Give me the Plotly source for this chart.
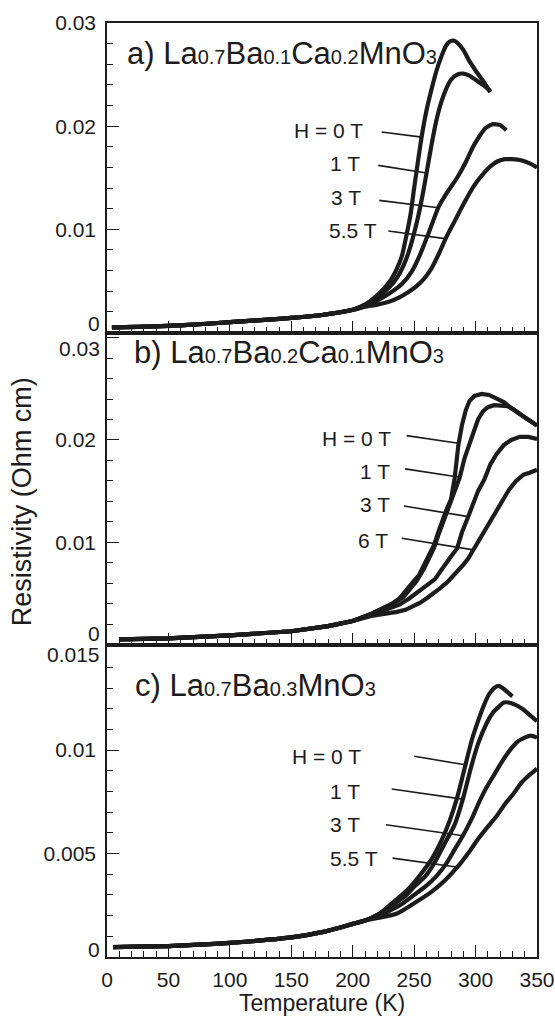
import plotly.graph_objects as go
from plotly.subplots import make_subplots

# ---------------- data (Temperature in K, resistivity in Ohm cm) ----------------
# Panel a) La0.7Ba0.1Ca0.2MnO3  (fields 0, 1, 3, 5.5 T)
a_T_low   = [4, 25, 50, 75, 100, 125, 150, 175, 200]
a_rho_low = [0.0005, 0.00055, 0.00065, 0.0008, 0.001, 0.0012, 0.00142, 0.0017, 0.0022]
a_T_0   = [210, 218, 225, 231, 236, 240, 243, 247, 250, 253, 256, 260, 264, 268, 272, 276, 279, 282, 285, 290, 295, 300, 306, 312]
a_rho_0 = [0.0027, 0.0034, 0.0042, 0.0051, 0.0062, 0.0074, 0.0090, 0.0114, 0.0140, 0.0165, 0.0189, 0.0215, 0.0235, 0.0253, 0.0267, 0.0278, 0.0282, 0.0283, 0.0281, 0.0274, 0.0263, 0.0254, 0.0244, 0.0233]
a_T_1   = [210, 220, 230, 236, 241, 245, 249, 253, 257, 260, 264, 268, 272, 276, 280, 285, 290, 295, 300, 306, 312]
a_rho_1 = [0.0027, 0.0034, 0.0044, 0.0053, 0.0064, 0.0076, 0.0092, 0.0111, 0.0134, 0.0154, 0.0181, 0.0205, 0.0223, 0.0236, 0.0245, 0.0250, 0.0251, 0.0249, 0.0245, 0.0240, 0.0234]
a_T_3   = [210, 220, 230, 240, 248, 255, 262, 270, 277, 285, 292, 298, 303, 308, 314, 320, 325]
a_rho_3 = [0.0026, 0.0031, 0.0038, 0.0047, 0.0059, 0.0076, 0.0097, 0.0122, 0.0136, 0.0150, 0.0165, 0.0180, 0.0190, 0.0198, 0.0202, 0.0201, 0.0196]
a_T_55   = [210, 220, 230, 238, 245, 252, 258, 264, 270, 276, 283, 290, 298, 305, 312, 318, 324, 330, 337, 344, 350]
a_rho_55 = [0.0025, 0.0027, 0.0030, 0.0034, 0.0039, 0.0045, 0.0052, 0.0062, 0.0076, 0.0092, 0.0108, 0.0124, 0.0141, 0.0152, 0.0161, 0.0166, 0.0168, 0.0168, 0.0167, 0.0164, 0.0160]

# Panel b) La0.7Ba0.2Ca0.1MnO3  (fields 0, 1, 3, 6 T)
b_T_low   = [10, 50, 100, 150, 180, 200]
b_rho_low = [0.0005, 0.0006, 0.0009, 0.0013, 0.0018, 0.0023]
b_T_0   = [215, 225, 232, 238, 244, 249, 254, 258, 262, 266, 270, 274, 277, 280, 283, 286, 289, 292, 295, 299, 305, 311, 318, 323, 329, 334, 339, 344, 350]
b_rho_0 = [0.0030, 0.0036, 0.0040, 0.0045, 0.0053, 0.0061, 0.0068, 0.0078, 0.0088, 0.0097, 0.0111, 0.0125, 0.0134, 0.0142, 0.0163, 0.0195, 0.0215, 0.0229, 0.0238, 0.0243, 0.0245, 0.0244, 0.0240, 0.0237, 0.0231, 0.0227, 0.0223, 0.0219, 0.0214]
b_T_1   = [215, 225, 233, 241, 247, 252, 258, 262, 266, 270, 275, 279, 283, 287, 291, 295, 298, 302, 306, 310, 315, 321, 326, 331, 334, 339, 344, 350]
b_rho_1 = [0.0030, 0.0035, 0.0040, 0.0046, 0.0054, 0.0062, 0.0074, 0.0084, 0.0094, 0.0108, 0.0125, 0.0136, 0.0150, 0.0163, 0.0182, 0.0196, 0.0208, 0.0220, 0.0228, 0.0232, 0.0234, 0.0234, 0.0233, 0.0230, 0.0227, 0.0223, 0.0219, 0.0214]
b_T_3   = [215, 222, 230, 238, 246, 254, 262, 267, 271, 276, 280, 285, 289, 294, 298, 302, 307, 312, 317, 323, 329, 336, 343, 350]
b_rho_3 = [0.0029, 0.0032, 0.0035, 0.0039, 0.0045, 0.0052, 0.0060, 0.0064, 0.0071, 0.0080, 0.0086, 0.0094, 0.0110, 0.0125, 0.0138, 0.0150, 0.0161, 0.0176, 0.0186, 0.0195, 0.0200, 0.0203, 0.0203, 0.0201]
b_T_6   = [215, 222, 230, 236, 243, 249, 255, 260, 266, 271, 277, 285, 290, 294, 298, 302, 307, 312, 317, 323, 327, 333, 339, 344, 350]
b_rho_6 = [0.0028, 0.0029, 0.0031, 0.0032, 0.0034, 0.0037, 0.0041, 0.0045, 0.0050, 0.0055, 0.0061, 0.0071, 0.0078, 0.0084, 0.0092, 0.0100, 0.0110, 0.0120, 0.0131, 0.0143, 0.0151, 0.0160, 0.0166, 0.0168, 0.0171]

# Panel c) La0.7Ba0.3MnO3  (fields 0, 1, 3, 5.5 T)
c_T_low   = [5, 25, 50, 75, 100, 125, 150, 175, 200]
c_rho_low = [0.00048, 0.0005, 0.00053, 0.0006, 0.00068, 0.0008, 0.00095, 0.0012, 0.0016]
c_T_0   = [212, 222, 232, 242, 250, 258, 265, 272, 279, 285, 291, 297, 302, 307, 311, 315, 318.5, 322, 326, 330]
c_rho_0 = [0.0018, 0.0021, 0.0026, 0.0031, 0.0036, 0.0042, 0.0048, 0.0056, 0.0066, 0.0077, 0.0091, 0.0105, 0.0114, 0.0122, 0.0127, 0.0130, 0.0131, 0.0130, 0.0128, 0.0126]
c_T_1   = [212, 222, 232, 242, 250, 259, 267, 275, 283, 290, 296, 302, 309, 314, 319, 323, 327, 332, 338, 344, 350]
c_rho_1 = [0.0018, 0.0021, 0.0025, 0.0029, 0.0034, 0.0039, 0.0046, 0.0055, 0.0064, 0.0077, 0.0091, 0.0103, 0.0113, 0.0118, 0.0121, 0.0123, 0.0123, 0.0122, 0.0120, 0.0117, 0.0114]
c_T_3   = [212, 222, 232, 241, 250, 259, 268, 276, 283, 290, 297, 303, 309, 314, 320, 328, 334, 340, 345, 350]
c_rho_3 = [0.0018, 0.0020, 0.0023, 0.0026, 0.0030, 0.0034, 0.0039, 0.0045, 0.0052, 0.0059, 0.0067, 0.0075, 0.0082, 0.0087, 0.0093, 0.0100, 0.0104, 0.0106, 0.0107, 0.0106]
c_T_55   = [212, 222, 236, 250, 263, 275, 286, 295, 302, 310, 317, 324, 331, 337, 342, 346, 350]
c_rho_55 = [0.0018, 0.0019, 0.0021, 0.0026, 0.0031, 0.0037, 0.0044, 0.0051, 0.0057, 0.0063, 0.0068, 0.0074, 0.0079, 0.0084, 0.0087, 0.0089, 0.0091]

# Panel titles and field labels
SUB = "<span style='font-size:20px'>{}</span>"
titles = [
    "a) La" + SUB.format("0.7") + "Ba" + SUB.format("0.1") + "Ca" + SUB.format("0.2") + "MnO" + SUB.format("3"),
    "b) La" + SUB.format("0.7") + "Ba" + SUB.format("0.2") + "Ca" + SUB.format("0.1") + "MnO" + SUB.format("3"),
    "c) La" + SUB.format("0.7") + "Ba" + SUB.format("0.3") + "MnO" + SUB.format("3"),
]
labels_a = ["H = 0 T", "1 T", "3 T", "5.5 T"]
labels_b = ["H = 0 T", "1 T", "3 T", "6 T"]
labels_c = ["H = 0 T", "1 T", "3 T", "5.5 T"]
x_ticks = [0, 50, 100, 150, 200, 250, 300, 350]

# ---------------- layout helpers (positions in data units) ----------------
title_pos = [(14.5, 0.0270), (20.5, 0.0285), (21.5, 0.0131)]
label_pos_a = [(210, 0.0196), (207.3, 0.0164), (208.6, 0.0131), (221.6, 0.0099)]
leader_a = [((223.6, 0.01943), (256.1, 0.01894)), ((220.8, 0.0162), (260.2, 0.01546)),
            ((221.6, 0.01281), (269.7, 0.0121)), ((229.0, 0.00984), (275.1, 0.0091))]
label_pos_b = [(233.0, 0.02016), (231.7, 0.0169), (231.7, 0.01365), (230.3, 0.01014)]
leader_b = [((243.9, 0.02042), (286.0, 0.01967)), ((242.6, 0.01717), (287.3, 0.01635)),
            ((241.7, 0.01355), (294.1, 0.01251)), ((239.9, 0.01039), (298.2, 0.00926))]
label_pos_c = [(208.6, 0.0097), (207.3, 0.0080), (207.3, 0.00639), (222.2, 0.00478)]
leader_c = [((250.1, 0.0097), (291.4, 0.00929)), ((231.7, 0.00812), (289.5, 0.00763)),
            ((227.1, 0.00639), (290.0, 0.00586)), ((232.5, 0.00478), (285.9, 0.00434))]

INK = "#1c1c1c"
FONT = "Liberation Sans, Arial, Helvetica, sans-serif"

fig = make_subplots(rows=3, cols=1, shared_xaxes=True, vertical_spacing=0)

panels = [
    (1, "spline", a_T_low, a_rho_low, [(a_T_0, a_rho_0), (a_T_1, a_rho_1), (a_T_3, a_rho_3), (a_T_55, a_rho_55)]),
    (2, "linear", b_T_low, b_rho_low, [(b_T_0, b_rho_0), (b_T_1, b_rho_1), (b_T_3, b_rho_3), (b_T_6, b_rho_6)]),
    (3, "spline", c_T_low, c_rho_low, [(c_T_0, c_rho_0), (c_T_1, c_rho_1), (c_T_3, c_rho_3), (c_T_55, c_rho_55)]),
]
for row, shape, tl, rl, curves in panels:
    for th, rh in curves:
        fig.add_trace(go.Scatter(x=tl + th, y=rl + rh, mode="lines",
                                 line=dict(color=INK, width=4.2, shape=shape, smoothing=0.6),
                                 showlegend=False, hoverinfo="skip"), row=row, col=1)

annotations = []
shapes = []
yrefs = ["y", "y2", "y3"]
for i, (labels, lpos, leaders) in enumerate([(labels_a, label_pos_a, leader_a),
                                              (labels_b, label_pos_b, leader_b),
                                              (labels_c, label_pos_c, leader_c)]):
    for txt, (lx, ly), ((x0, y0), (x1, y1)) in zip(labels, lpos, leaders):
        annotations.append(dict(x=lx, y=ly, xref="x", yref=yrefs[i], text=txt, showarrow=False,
                                xanchor="right", yanchor="middle",
                                font=dict(size=21, color=INK, family=FONT)))
        shapes.append(dict(type="line", xref="x", yref=yrefs[i], x0=x0, y0=y0, x1=x1, y1=y1,
                           line=dict(color=INK, width=1.6)))
    tx, ty = title_pos[i]
    annotations.append(dict(x=tx, y=ty, xref="x", yref=yrefs[i], text=titles[i], showarrow=False,
                            xanchor="left", yanchor="middle",
                            font=dict(size=31, color=INK, family=FONT)))

# shifted end labels of the y axes (as in the original, moved inside the panel)
end_labels = [("0", "y", 0.0, 9), ("0.03", "y2", 0.0305, -16), ("0", "y2", 0.0, 11),
              ("0.015", "y3", 0.0151, -10), ("0", "y3", 0.0, 7)]
for txt, yr, val, shift in end_labels:
    annotations.append(dict(x=0, y=val, xref="paper", yref=yr, text=txt, showarrow=False,
                            xanchor="right", yanchor="middle", xshift=-5, yshift=shift,
                            font=dict(size=21, color=INK, family=FONT)))

# axis titles
annotations.append(dict(x=0.5, y=0, xref="paper", yref="paper", text="Temperature (K)", showarrow=False,
                        xanchor="center", yanchor="middle", yshift=-46,
                        font=dict(size=23, color=INK, family=FONT)))
annotations.append(dict(x=0, y=0.487, xref="paper", yref="paper", text="Resistivity (Ohm cm)",
                        showarrow=False, textangle=-90, xanchor="center", yanchor="middle", xshift=-85,
                        font=dict(size=27, color=INK, family=FONT)))

axis_common = dict(showline=True, linecolor=INK, linewidth=1.5, mirror=True, ticks="inside",
                   tickcolor=INK, tickwidth=1.3, showgrid=False, zeroline=False, automargin=False)

fig.update_layout(
    width=555, height=1017,
    margin=dict(l=107, r=18, t=23, b=60),
    paper_bgcolor="white", plot_bgcolor="white",
    font=dict(family=FONT, color=INK, size=21),
    annotations=annotations, shapes=shapes,
)
domains = [[0.6686, 1.0], [0.3345, 0.6686], [0.0, 0.3345]]
ranges = [[0, 0.03], [0, 0.0305], [0, 0.0151]]
yticks = [([0, 0.01, 0.02, 0.03], ["", "0.01", "0.02", "0.03"], 0.002),
          ([0, 0.01, 0.02, 0.03], ["", "0.01", "0.02", ""], 0.002),
          ([0, 0.005, 0.01, 0.015], ["", "0.005", "0.01", ""], 0.001)]
for i in range(3):
    tv, tt, mdt = yticks[i]
    fig.update_yaxes(row=i + 1, col=1, domain=domains[i], range=ranges[i], tickmode="array",
                     tickvals=tv, ticktext=tt, ticklen=12, ticklabelstandoff=5,
                     tickfont=dict(size=21, color=INK, family=FONT),
                     minor=dict(tick0=0, dtick=mdt, ticks="inside", ticklen=6, tickcolor=INK, tickwidth=1.2),
                     **axis_common)
    fig.update_xaxes(row=i + 1, col=1, range=[0, 350], tickmode="array", tickvals=x_ticks,
                     ticktext=[str(v) for v in x_ticks], ticklen=12, ticklabelstandoff=3,
                     showticklabels=(i == 2),
                     tickfont=dict(size=21, color=INK, family=FONT),
                     minor=dict(tick0=0, dtick=10, ticks="inside", ticklen=6, tickcolor=INK, tickwidth=1.2),
                     **axis_common)

fig.write_html("out.html")
